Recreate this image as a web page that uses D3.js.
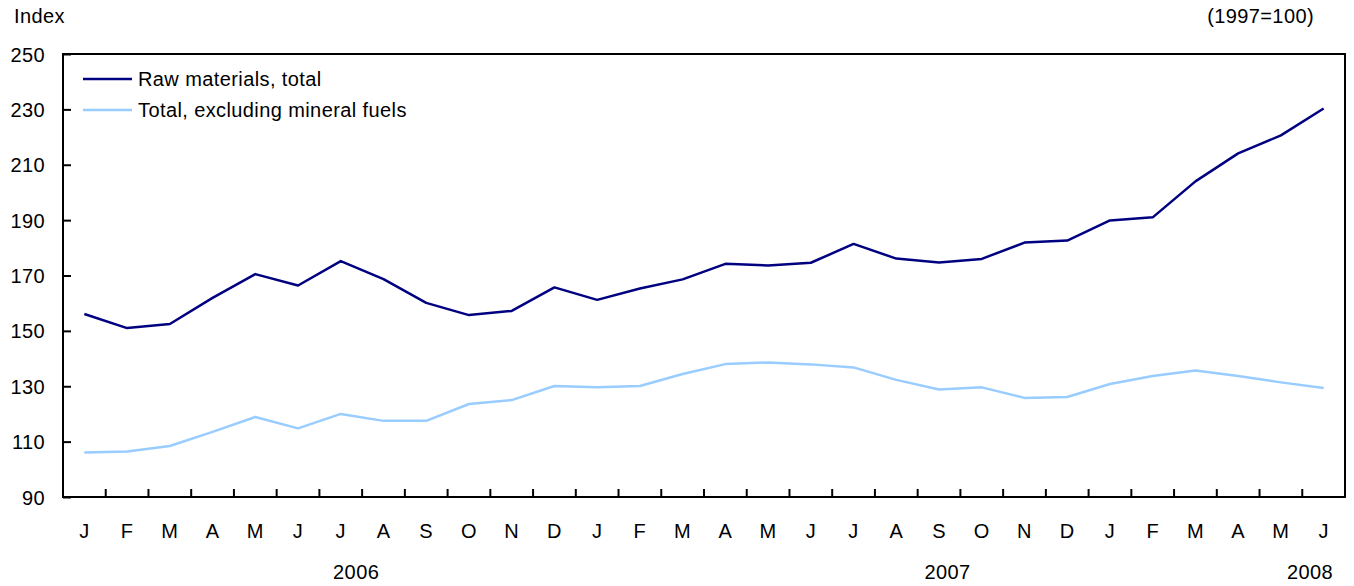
<!DOCTYPE html>
<html>
<head>
<meta charset="utf-8">
<script src="https://cdn.jsdelivr.net/npm/d3@7.9.0/dist/d3.min.js"></script>
<style>
  body { margin: 0; background: #fff; }
  text { font-family: "Liberation Sans", Arial, Helvetica, sans-serif; fill: #000; letter-spacing: 0.4px; }
</style>
</head>
<body>
<div id="chart"></div>
<script>
// Month labels, Jan 2006 to Jun 2008
const months = ['J','F','M','A','M','J','J','A','S','O','N','D',
                'J','F','M','A','M','J','J','A','S','O','N','D',
                'J','F','M','A','M','J'];

// Raw materials price index, total
const rawTotal = [156.1, 151.0, 152.5, 161.9, 170.5, 166.4, 175.2, 168.7, 160.1, 155.7, 157.2, 165.7,
                  161.2, 165.3, 168.6, 174.2, 173.6, 174.6, 181.4, 176.1, 174.7, 176.0, 181.9, 182.6,
                  189.9, 191.0, 204.0, 214.1, 220.6, 230.3];

// Total, excluding mineral fuels
const exFuels = [106.1, 106.4, 108.4, 113.5, 118.9, 114.8, 120.0, 117.5, 117.5, 123.6, 125.0, 130.1,
                 129.6, 130.1, 134.4, 138.0, 138.6, 137.9, 136.8, 132.3, 128.8, 129.6, 125.8, 126.1,
                 130.8, 133.7, 135.7, 133.7, 131.4, 129.4];

const yTicks = [90, 110, 130, 150, 170, 190, 210, 230, 250];

// Year labels with the month index they sit under
const years = [{ label: '2006', at: 6.36 }, { label: '2007', at: 20.2 }, { label: '2008', at: 28.68 }];

const series = [
    { name: 'Raw materials, total', values: rawTotal, color: '#000080' },
    { name: 'Total, excluding mineral fuels', values: exFuels, color: '#99ccff' },
];

const width = 1354;
const height = 586;
const margin = { top: 54, right: 9, bottom: 89, left: 63 };
const fontSize = '20px';

const svg = d3.select('#chart')
    .append('svg')
    .attr('width', width)
    .attr('height', height);

const idx = d3.range(months.length);

const xScale = d3.scaleBand()
    .domain(idx)
    .range([margin.left, width - margin.right])
    .padding(0);

// continuous position for year labels
const xPos = d3.scaleLinear()
    .domain([0, months.length - 1])
    .range([xScale(0) + xScale.bandwidth() / 2, xScale(months.length - 1) + xScale.bandwidth() / 2]);

const yScale = d3.scaleLinear()
    .domain([90, 250])
    .range([height - margin.bottom, margin.top]);

// Y axis ticks (inward)
const yAxis = d3.axisLeft(yScale)
    .tickValues(yTicks)
    .tickSize(-8)
    .tickPadding(18);

const gy = svg.append('g')
    .attr('transform', `translate(${margin.left}, 0)`)
    .call(yAxis);
gy.select('.domain').remove();
gy.selectAll('line').attr('stroke', '#000').attr('stroke-width', 2);
gy.selectAll('text')
    .style('font-size', fontSize)
    .attr('dy', '0.35em');

// X axis: ticks between months, pointing up
const xAxis = d3.axisBottom(xScale)
    .tickValues(idx.slice(1))
    .tickFormat('')
    .tickSize(-8)
    .offset(0);

const gx = svg.append('g')
    .attr('transform', `translate(0, ${height - margin.bottom})`)
    .call(xAxis);
gx.select('.domain').remove();
gx.selectAll('.tick').attr('transform', (d) => `translate(${xScale(d)},0)`);
gx.selectAll('line').attr('stroke', '#000').attr('stroke-width', 2);

// Month labels
svg.append('g')
    .selectAll('text')
    .data(months)
    .join('text')
    .attr('x', (d, i) => xScale(i) + xScale.bandwidth() / 2)
    .attr('y', 538)
    .attr('text-anchor', 'middle')
    .style('font-size', fontSize)
    .text((d) => d);

// Year labels
svg.append('g')
    .selectAll('text')
    .data(years)
    .join('text')
    .attr('x', (d) => xPos(d.at))
    .attr('y', 579)
    .attr('text-anchor', 'middle')
    .style('font-size', fontSize)
    .text((d) => d.label);

// Lines
const line = d3.line()
    .x((d, i) => xScale(i) + xScale.bandwidth() / 2)
    .y((d) => yScale(d));

svg.append('g')
    .selectAll('path')
    .data(series)
    .join('path')
    .attr('fill', 'none')
    .attr('stroke', (d) => d.color)
    .attr('stroke-width', 2.5)
    .attr('stroke-linejoin', 'round')
    .attr('d', (d) => line(d.values));

// Plot frame
svg.append('rect')
    .attr('x', margin.left)
    .attr('y', margin.top)
    .attr('width', width - margin.left - margin.right)
    .attr('height', height - margin.top - margin.bottom)
    .attr('fill', 'none')
    .attr('stroke', '#000')
    .attr('stroke-width', 2);

// Legend
const legend = svg.append('g')
    .selectAll('g')
    .data(series)
    .join('g')
    .attr('transform', (d, i) => `translate(83, ${79 + i * 31})`);

legend.append('line')
    .attr('x1', 0)
    .attr('x2', 49)
    .attr('stroke', (d) => d.color)
    .attr('stroke-width', 2.5);

legend.append('text')
    .attr('x', 55)
    .attr('dy', '0.35em')
    .style('font-size', fontSize)
    .text((d) => d.name);

// Unit labels
svg.append('text')
    .attr('x', 14)
    .attr('y', 23)
    .style('font-size', fontSize)
    .text('Index');

svg.append('text')
    .attr('x', 1314)
    .attr('y', 23)
    .attr('text-anchor', 'end')
    .style('font-size', fontSize)
    .text('(1997=100)');
</script>
</body>
</html>
